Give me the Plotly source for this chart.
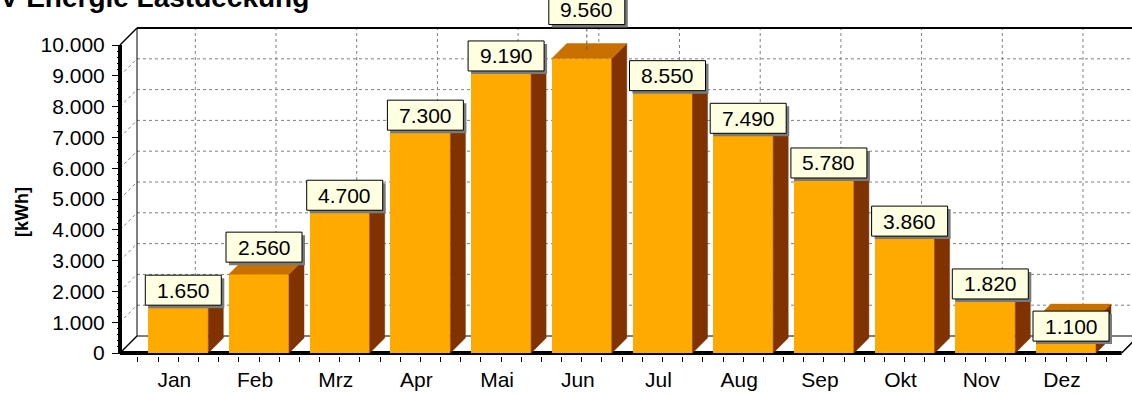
import plotly.graph_objects as go

# ---------------- data ----------------
MONTHS = ["Jan", "Feb", "Mrz", "Apr", "Mai", "Jun", "Jul", "Aug", "Sep", "Okt", "Nov", "Dez"]
ENERGY_KWH = [1650, 2560, 4700, 7300, 9190, 9560, 8550, 7490, 5780, 3860, 1820, 1100]
Y_TICKS = [0, 1000, 2000, 3000, 4000, 5000, 6000, 7000, 8000, 9000, 10000]
Y_TICK_LABELS = ["0", "1.000", "2.000", "3.000", "4.000", "5.000", "6.000",
                 "7.000", "8.000", "9.000", "10.000"]
TITLE = "PV Energie Lastdeckung"
Y_TITLE = "[kWh]"

# ---------------- style / geometry ----------------
W, H = 1132, 394
ML, MR, MT, MB = 100, 0, 0, 38
PLOT_W = W - ML - MR
PLOT_H = H - MT - MB
CAT0_PX = 178.3          # pixel of first category centre
PX_PER_CAT = 80.7
ZERO_PX = 353            # pixel row of value 0
PX_PER_1000 = 30.8
K = 1000.0 / PX_PER_1000  # value units per pixel

x_range = [(ML - CAT0_PX) / PX_PER_CAT, (W - MR - CAT0_PX) / PX_PER_CAT]
y_range = [-(MT + PLOT_H - ZERO_PX) * K, (ZERO_PX - MT) * K]

AXIS_PX = 120
XA = (AXIS_PX - CAT0_PX) / PX_PER_CAT
XR = len(MONTHS) - 1 + 0.69
WDX, WDY = 17 / PX_PER_CAT, 17 * K      # wall depth
BDX, BDY = 15 / PX_PER_CAT, 15 * K      # bar depth
HW = 30 / PX_PER_CAT                    # half bar width
TOP = Y_TICKS[-1]
XRIGHT = x_range[1] + 1

FRONT = "#FFAA00"
SIDE = "#803300"
TOPC = "#C87000"
FONT = "Liberation Sans, Arial, sans-serif"

# label offsets (pixels above bar front top)
LABEL_SHIFT = [12, 27, 13, 13, 14, 49, 14, 4, 12, 13, 13, -7]
LABEL_DX = 5
BOX_HW, BOX_HH = 38, 15

fig = go.Figure()

# front faces
idx = list(range(len(MONTHS)))
fig.add_trace(go.Bar(x=idx, y=ENERGY_KWH, width=2 * HW,
                     marker=dict(color=FRONT, line=dict(width=0)),
                     hoverinfo="skip", showlegend=False))

# side and top faces
for i, v in enumerate(ENERGY_KWH):
    fig.add_trace(go.Scatter(
        x=[i + HW, i + HW + BDX, i + HW + BDX, i + HW, i + HW],
        y=[0, BDY, v + BDY, v, 0],
        fill="toself", fillcolor=SIDE, mode="lines",
        line=dict(width=0.5, color=SIDE), hoverinfo="skip", showlegend=False))
    fig.add_trace(go.Scatter(
        x=[i - HW, i - HW + BDX, i + HW + BDX, i + HW, i - HW],
        y=[v, v + BDY, v + BDY, v, v],
        fill="toself", fillcolor=TOPC, mode="lines",
        line=dict(width=0.5, color=TOPC), hoverinfo="skip", showlegend=False))
    # leader line
    fig.add_trace(go.Scatter(
        x=[i + LABEL_DX / PX_PER_CAT] * 2,
        y=[v + BDY * 0.6, v + LABEL_SHIFT[i] * K],
        mode="lines", line=dict(width=1, color="#555555", dash="dot"),
        hoverinfo="skip", showlegend=False))

shapes = []
GRID = dict(color="#808080", width=1, dash="dot")
for v in Y_TICKS[1:-1]:
    shapes.append(dict(type="line", layer="below", xref="x", yref="y",
                       x0=XA, y0=v, x1=XA + WDX, y1=v + WDY, line=GRID))
    shapes.append(dict(type="line", layer="below", xref="x", yref="y",
                       x0=XA + WDX, y0=v + WDY, x1=XRIGHT, y1=v + WDY, line=GRID))
for i in idx:
    shapes.append(dict(type="line", layer="below", xref="x", yref="y",
                       x0=i + WDX, y0=WDY, x1=i + WDX, y1=TOP + WDY, line=GRID))

def solid(x0, y0, x1, y1, w):
    return dict(type="line", layer="below", xref="x", yref="y",
                x0=x0, y0=y0, x1=x1, y1=y1, line=dict(color="black", width=w))

shapes += [
    solid(XA + WDX, WDY, XA + WDX, TOP + WDY, 1),
    solid(XA + WDX, TOP + WDY, XRIGHT, TOP + WDY, 2),
    solid(XA, TOP, XA + WDX, TOP + WDY, 1.5),
    solid(XA + WDX, WDY, XRIGHT, WDY, 1),
    solid(XA, 0, XA + WDX, WDY, 1.5),
    solid(XR, 0, XR + WDX, WDY, 1.5),
    solid(XA, 0, XR, 0, 4),
    solid(XA, 0, XA, TOP, 4),
]

# label boxes (shadow + box)
annotations = []
for i, v in enumerate(ENERGY_KWH):
    s = LABEL_SHIFT[i]
    shapes.append(dict(type="rect", layer="above", xref="x", yref="y",
                       xsizemode="pixel", ysizemode="pixel", xanchor=i, yanchor=v,
                       x0=LABEL_DX - BOX_HW + 3, x1=LABEL_DX + BOX_HW + 3,
                       y0=s - BOX_HH - 3, y1=s + BOX_HH - 3,
                       fillcolor="#7a7a7a", line=dict(width=0)))
    shapes.append(dict(type="rect", layer="above", xref="x", yref="y",
                       xsizemode="pixel", ysizemode="pixel", xanchor=i, yanchor=v,
                       x0=LABEL_DX - BOX_HW, x1=LABEL_DX + BOX_HW,
                       y0=s - BOX_HH, y1=s + BOX_HH,
                       fillcolor="#FFFFE1", line=dict(width=1, color="black")))
    annotations.append(dict(xref="x", yref="y", x=i, y=v, xshift=LABEL_DX, yshift=s,
                            text=f"{v:,}".replace(",", "."), showarrow=False,
                            xanchor="center", yanchor="middle",
                            font=dict(family=FONT, size=21, color="black")))

annotations.append(dict(xref="paper", yref="paper",
                        x=(-21 - ML) / PLOT_W, y=1 + 2.5 / PLOT_H,
                        xanchor="left", yanchor="middle", text=f"<b>{TITLE}</b>",
                        showarrow=False, font=dict(family=FONT, size=28, color="black")))
annotations.append(dict(xref="paper", yref="paper",
                        x=(22 - ML) / PLOT_W, y=(PLOT_H - 212) / PLOT_H,
                        xanchor="center", yanchor="middle", text=f"<b>{Y_TITLE}</b>",
                        textangle=-90, showarrow=False,
                        font=dict(family=FONT, size=18, color="black")))

minor_x = [i + q for i in range(-1, len(MONTHS) + 1) for q in (0.25, 0.5, 0.75)
           if -0.5 <= i + q <= len(MONTHS) - 0.5]
minor_y = [v for v in range(0, TOP + 1, 200) if v % 1000 != 0]

fig.update_layout(
    width=W, height=H, margin=dict(l=ML, r=MR, t=MT, b=MB),
    paper_bgcolor="white", plot_bgcolor="white",
    showlegend=False, shapes=shapes, annotations=annotations,
    xaxis=dict(range=x_range, tickmode="array", tickvals=idx, ticktext=MONTHS,
               ticks="outside", ticklen=5, tickwidth=1, tickcolor="black",
               showgrid=False, zeroline=False, showline=False, ticklabelshift=-4,
               tickfont=dict(family=FONT, size=21, color="black"),
               minor=dict(tickvals=minor_x, ticks="outside", ticklen=5,
                          tickwidth=1, tickcolor="black", showgrid=False)),
    yaxis=dict(range=y_range, tickmode="array", tickvals=Y_TICKS, ticktext=Y_TICK_LABELS,
               ticks="outside", ticklen=8, tickwidth=1, tickcolor="black",
               showgrid=False, zeroline=False, showline=False,
               anchor="free", position=(AXIS_PX - ML) / PLOT_W, ticklabelstandoff=3,
               tickfont=dict(family=FONT, size=21, color="black"),
               minor=dict(tickvals=minor_y, ticks="outside", ticklen=3,
                          tickwidth=1, tickcolor="black", showgrid=False)),
    bargap=0,
)

fig.write_html("out.html", config={"displayModeBar": False},
               post_script="document.body.style.margin='0';document.body.style.overflow='hidden';")
